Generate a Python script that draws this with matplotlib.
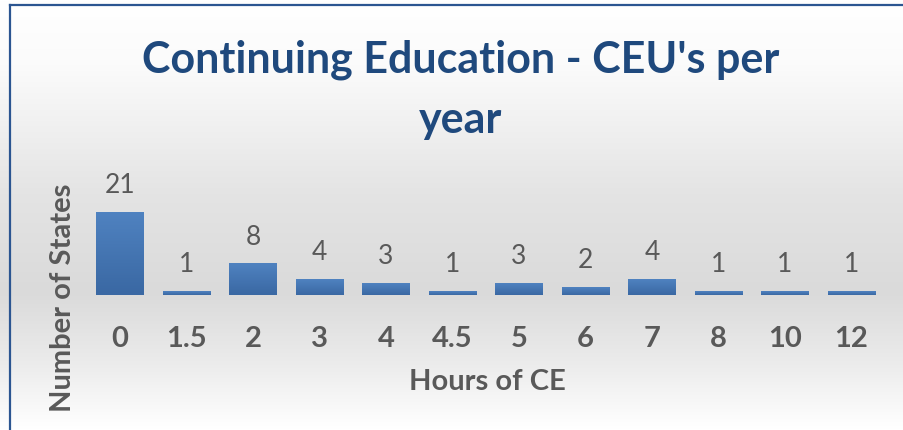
import matplotlib.pyplot as plt
import numpy as np
from matplotlib.colors import LinearSegmentedColormap
from matplotlib.lines import Line2D

# ── data ────────────────────────────────────────────────────────────────────
hours = ["0", "1.5", "2", "3", "4", "4.5", "5", "6", "7", "8", "10", "12"]
states = [21, 1, 8, 4, 3, 1, 3, 2, 4, 1, 1, 1]

TITLE = "Continuing Education - CEU's per\nyear"
TITLE_COLOR = "#1f497d"
TEXT_GRAY = "#595959"
FONT = "Lato"

fig = plt.figure(figsize=(9.04, 4.30), dpi=100)

# background gradient: white top -> light gray -> white bottom
bg = fig.add_axes([0, 0, 1, 1], zorder=-10)
bg_cmap = LinearSegmentedColormap.from_list(
    "bg", [(0.0, "#ffffff"), (0.15, "#fbfbfb"), (0.45, "#e4e4e4"),
           (0.68, "#dadada"), (0.85, "#ececec"), (1.0, "#ffffff")])
bg.imshow(np.linspace(0, 1, 256).reshape(-1, 1), aspect="auto", cmap=bg_cmap,
          extent=[0, 1, 1, 0])
bg.set_xlim(0, 1)
bg.set_ylim(1, 0)
bg.axis("off")

# border lines (left and top)
fig.add_artist(Line2D([9.5 / 904, 9.5 / 904], [0, 1 - 5 / 430],
                      transform=fig.transFigure, color="#2b5591", linewidth=1.6))
fig.add_artist(Line2D([9.5 / 904, 1], [1 - 5 / 430, 1 - 5 / 430],
                      transform=fig.transFigure, color="#2b5591", linewidth=1.6))

ax = fig.add_axes([86.75 / 904, 135 / 430, 798 / 904, 98.75 / 430])
ax.set_facecolor("none")
x = np.arange(len(hours))
bars = ax.bar(x, states, width=0.72, color="#4a7bb7", zorder=2)

# vertical gradient inside each bar
bar_cmap = LinearSegmentedColormap.from_list("bar", ["#3a68a3", "#4f82c0"])
grad = np.linspace(0, 1, 64).reshape(-1, 1)
for b in bars:
    bx, by = b.get_x(), b.get_y()
    w, h = b.get_width(), b.get_height()
    im = ax.imshow(grad, aspect="auto", cmap=bar_cmap, origin="lower",
                   extent=[bx, bx + w, by, by + h], zorder=3)
    im.set_clip_path(b)

ax.set_xlim(-0.5, len(hours) - 0.5)
ax.set_ylim(0, 25)

for xi, v in zip(x, states):
    ax.annotate(str(v), (xi, v), xytext=(0, 10), textcoords="offset points",
                ha="center", va="bottom", fontsize=19, color=TEXT_GRAY,
                family=FONT)

ax.set_xticks(x)
ax.set_xticklabels(hours, fontsize=21, fontweight="bold", color=TEXT_GRAY,
                   family=FONT)
ax.tick_params(axis="x", length=0, pad=22)
ax.set_yticks([])
for s in ax.spines.values():
    s.set_visible(False)

fig.text(487 / 904, 1 - 382 / 430, "Hours of CE", ha="center", va="center",
         fontsize=21, fontweight="bold", color=TEXT_GRAY, family=FONT)
fig.text(63 / 904, 1 - 298 / 430, "Number of States", ha="center", va="center",
         rotation=90, fontsize=21, fontweight="bold", color=TEXT_GRAY,
         family=FONT)

fig.text(461 / 904, 1 - 90 / 430, TITLE, ha="center", va="center",
         fontsize=31, fontweight="bold", color=TITLE_COLOR, family=FONT,
         linespacing=1.6)

fig.savefig("out.png", dpi=100)
